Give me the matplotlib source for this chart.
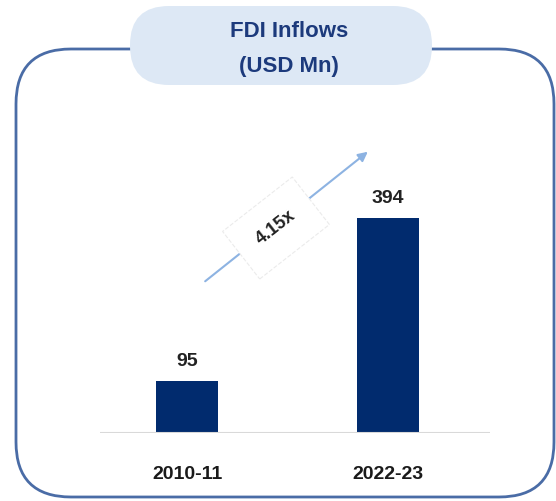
import matplotlib.pyplot as plt
from matplotlib.patches import FancyBboxPatch

# data
periodi = ['2010-11', '2022-23']
fdi = [95, 394]
rast = '4.15x'

NAVY = '#012b6e'
NASLOV = '#1c3a7c'
FONT = ['Liberation Sans Narrow', 'Liberation Sans', 'DejaVu Sans']

fig = plt.figure(figsize=(5.56, 5.01), dpi=100)

# pozadina u pikselima (y ide nadole)
bg = fig.add_axes([0, 0, 1, 1])
bg.set_xlim(0, 556)
bg.set_ylim(501, 0)
bg.axis('off')

okvir = FancyBboxPatch((16, 49), 538, 448, boxstyle='round,pad=0,rounding_size=55',
                       fc='none', ec='#4a6ca6', lw=2)
bg.add_patch(okvir)
naslov = FancyBboxPatch((130, 6), 302, 79, boxstyle='round,pad=0,rounding_size=39',
                        fc='#dde8f5', ec='none')
bg.add_patch(naslov)
bg.text(289, 31, 'FDI Inflows', ha='center', va='center', fontsize=16,
        fontweight='bold', color=NASLOV, family=FONT)
bg.text(289, 66, '(USD Mn)', ha='center', va='center', fontsize=16,
        fontweight='bold', color=NASLOV, family=FONT)

# strelica + faktor rasta
bg.annotate('', xy=(370, 150), xytext=(203, 283),
            arrowprops=dict(arrowstyle='-|>', color='#8db3e2', lw=1.5, mutation_scale=14))
bg.text(276, 228, rast, ha='center', va='center', rotation=38, fontsize=13,
        fontweight='bold', color='#222222', family=FONT,
        bbox=dict(boxstyle='square,pad=1.2', fc='white', ec='#ebebeb', ls='--', lw=0.8))

# stubici
ax = fig.add_axes([100 / 556, (501 - 433) / 501, 390 / 556, 283 / 501])
ax.patch.set_alpha(0)
x = range(len(periodi))
ax.bar(x, fdi, width=0.31, color=NAVY)
ax.set_xlim(-0.433, 1.507)
ax.set_ylim(0, 518)
for i, v in zip(x, fdi):
    ax.text(i, v + 20, str(v), ha='center', va='bottom', fontsize=14,
            fontweight='bold', color='#222222', family=FONT)
ax.axhline(0, color='#d9d9d9', lw=1.5)
ax.set_xticks(list(x))
ax.set_xticklabels(periodi, fontsize=14, fontweight='bold', color='#1a1a1a', family=FONT)
ax.tick_params(axis='x', length=0, pad=24)
ax.set_yticks([])
for s in ax.spines.values():
    s.set_visible(False)

fig.savefig('out.png', dpi=100)
